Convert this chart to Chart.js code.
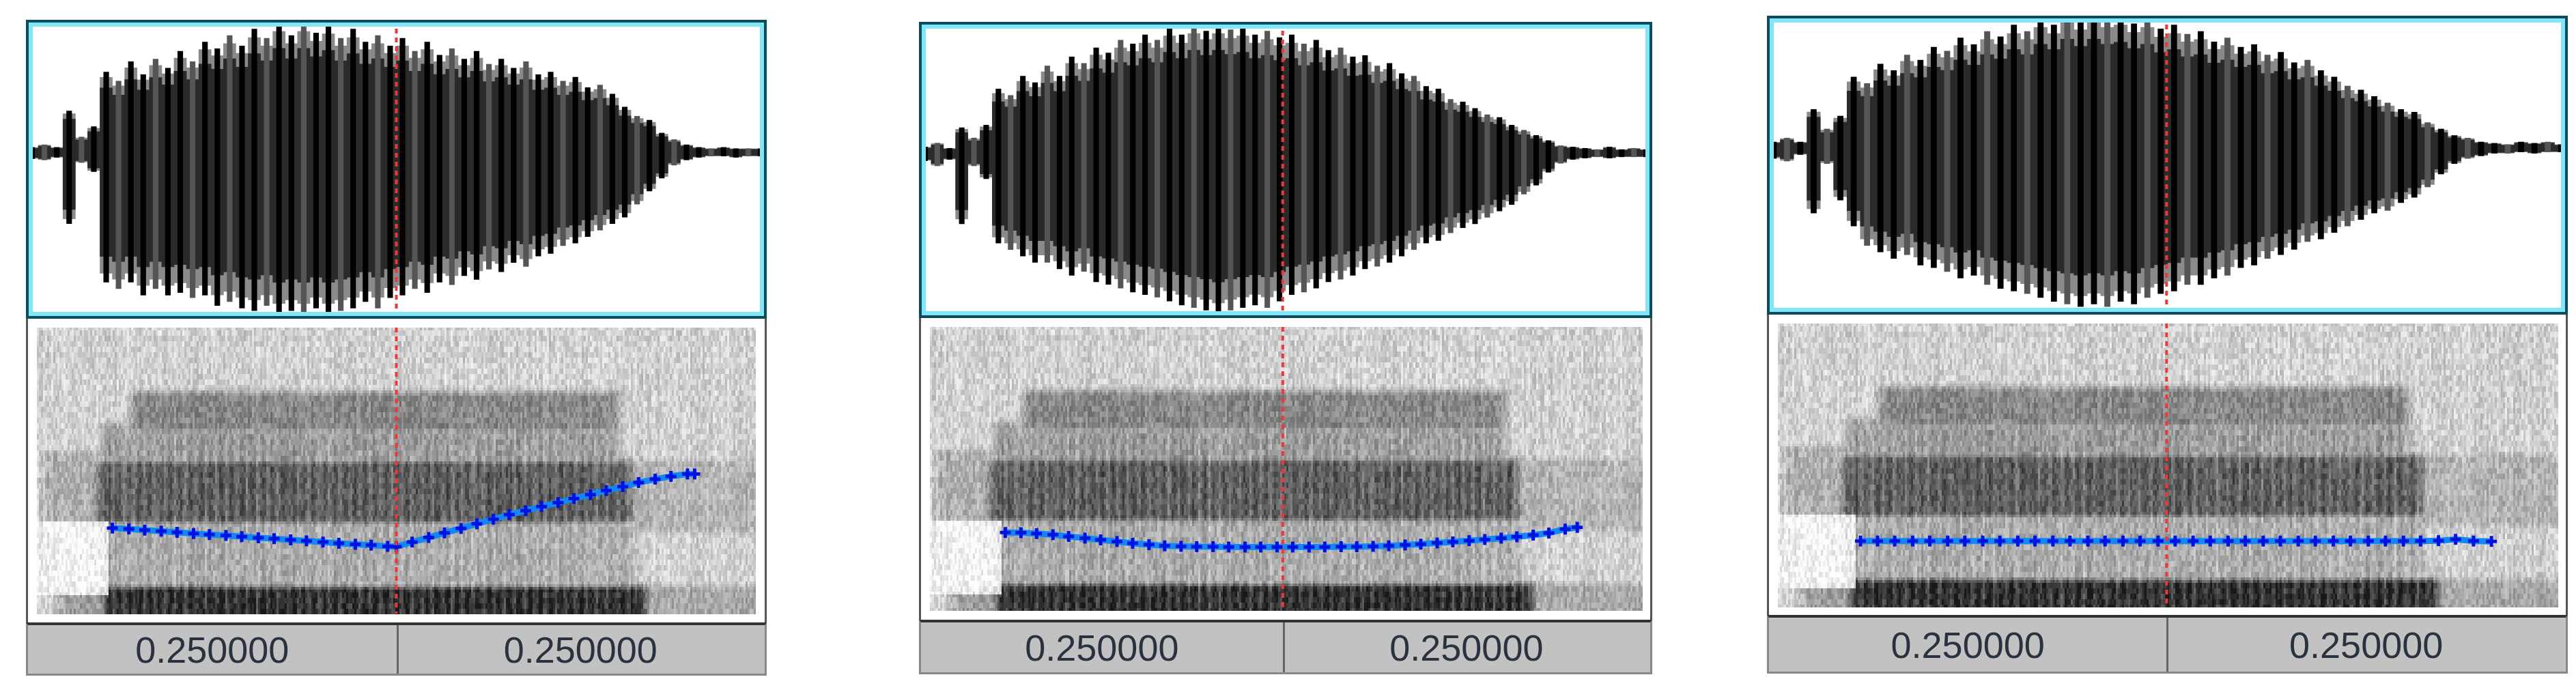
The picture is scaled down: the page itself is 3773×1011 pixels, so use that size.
<!DOCTYPE html>
<html><head><meta charset="utf-8">
<script src="https://cdn.jsdelivr.net/npm/chart.js@4"></script>
<style>
body{margin:0;background:#fff;width:3773px;height:1011px;overflow:hidden;position:relative;font-family:"Liberation Sans",Arial,sans-serif}
.panel{position:absolute}
.wave{position:absolute;left:0;}
.spec{position:absolute;left:0;border-left:3px solid #555;border-right:3px solid #555;box-sizing:border-box}
.bar{position:absolute;left:0;background:#c2c2c2;border:3px solid #888;border-top:4px solid #333;box-sizing:border-box}
.lab{position:absolute;top:0;height:100%;display:flex;align-items:center;justify-content:center;font-size:54px;color:#2a3240}
.div{position:absolute;top:0;height:100%;width:3px;background:#666}
</style></head><body>
<script>
// ---- data ----
const panelNames = ["p1","p2","p3"];
const timeLabels = ["0.250000","0.250000"];
const cursorTime = [0.50, 0.496, 0.499];

const waveHi1 = [0.04,0.06,0.04,0.32,0.12,0.2, 0.62,0.55,0.7,0.6,0.72,0.65,0.78,0.7,0.85,0.8,0.9,0.82,0.95,0.88,1.0,0.9,1.0,0.92,0.98,0.88,0.95,0.85,0.9,0.82,0.88,0.78,0.85,0.75,0.8,0.72,0.78,0.68,0.72,0.65,0.7,0.6,0.62,0.55,0.58,0.5,0.52,0.45, 0.35,0.28,0.25,0.15,0.1,0.06, 0.04,0.03,0.04,0.03,0.03,0.03];
const waveLo1 = [-0.05,-0.06,-0.04,-0.55,-0.08,-0.15, -1.0,-1.05,-1.0,-1.1,-1.05,-1.1,-1.08,-1.12,-1.1,-1.18,-1.15,-1.2,-1.22,-1.18,-1.25,-1.22,-1.25,-1.2,-1.25,-1.22,-1.2,-1.15,-1.2,-1.12,-1.1,-1.05,-1.08,-1.0,-1.02,-0.95,-0.98,-0.9,-0.92,-0.85,-0.88,-0.8,-0.78,-0.72,-0.7,-0.65,-0.6,-0.55, -0.5,-0.4,-0.3,-0.2,-0.1,-0.06, -0.04,-0.03,-0.03,-0.04,-0.03,-0.03];
const waveHi2 = [0.05,0.08,0.04,0.2,0.12,0.22, 0.5,0.45,0.6,0.55,0.68,0.6,0.75,0.7,0.82,0.78,0.88,0.85,0.92,0.88,0.98,0.92,1.0,0.95,1.0,0.96,0.98,0.92,0.95,0.9,0.92,0.85,0.88,0.8,0.82,0.75,0.76,0.68,0.7,0.62,0.6,0.52,0.5,0.42,0.4,0.35,0.3,0.28, 0.22,0.18,0.14,0.1,0.06,0.05, 0.04,0.03,0.05,0.03,0.04,0.03];
const waveLo2 = [-0.06,-0.1,-0.05,-0.55,-0.1,-0.2, -0.7,-0.75,-0.8,-0.85,-0.85,-0.9,-0.95,-0.92,-1.0,-1.02,-1.05,-1.08,-1.1,-1.12,-1.15,-1.18,-1.2,-1.22,-1.25,-1.22,-1.2,-1.18,-1.2,-1.15,-1.1,-1.08,-1.05,-1.0,-0.98,-0.95,-0.9,-0.88,-0.85,-0.8,-0.75,-0.7,-0.68,-0.62,-0.58,-0.55,-0.5,-0.45, -0.4,-0.32,-0.25,-0.15,-0.08,-0.05, -0.04,-0.03,-0.04,-0.03,-0.03,-0.03];
const waveHi3 = [0.05,0.08,0.05,0.3,0.15,0.25, 0.55,0.5,0.65,0.6,0.72,0.68,0.78,0.75,0.85,0.8,0.9,0.86,0.95,0.9,1.0,0.95,1.05,0.98,1.05,1.0,1.02,0.96,1.0,0.92,0.95,0.88,0.9,0.82,0.85,0.78,0.8,0.72,0.74,0.66,0.68,0.6,0.55,0.48,0.45,0.4,0.35,0.3, 0.28,0.2,0.15,0.1,0.08,0.05, 0.04,0.03,0.05,0.04,0.05,0.03];
const waveLo3 = [-0.08,-0.1,-0.05,-0.5,-0.12,-0.4, -0.6,-0.75,-0.8,-0.85,-0.82,-0.9,-0.92,-0.95,-1.0,-0.98,-1.05,-1.08,-1.1,-1.12,-1.15,-1.18,-1.2,-1.22,-1.2,-1.22,-1.18,-1.2,-1.15,-1.12,-1.1,-1.05,-1.05,-1.0,-0.98,-0.92,-0.9,-0.85,-0.82,-0.78,-0.72,-0.7,-0.65,-0.6,-0.55,-0.5,-0.48,-0.42, -0.38,-0.3,-0.2,-0.12,-0.08,-0.06, -0.04,-0.04,-0.03,-0.04,-0.03,-0.03];

const pitchT1 = [0.105,0.128,0.150,0.173,0.195,0.218,0.240,0.263,0.285,0.308,0.330,0.353,0.375,0.398,0.420,0.443,0.465,0.488,0.500,0.522,0.545,0.567,0.590,0.612,0.635,0.657,0.680,0.702,0.725,0.747,0.770,0.792,0.815,0.837,0.860,0.882,0.905,0.915];
const pitchF1 = [29.9,29.6,29.2,28.8,28.4,28.0,27.6,27.3,26.9,26.5,26.2,25.8,25.4,25.0,24.6,24.2,23.9,23.5,23.4,25.0,26.6,28.2,29.8,31.4,33.0,34.6,36.0,37.4,38.8,40.2,41.6,43.0,44.4,45.8,47.0,48.0,48.8,48.8];
const pitchT2 = [0.106,0.128,0.150,0.173,0.195,0.218,0.240,0.263,0.285,0.308,0.330,0.353,0.375,0.398,0.420,0.443,0.465,0.488,0.510,0.533,0.555,0.578,0.600,0.623,0.645,0.668,0.690,0.713,0.735,0.758,0.780,0.803,0.825,0.848,0.870,0.893,0.910];
const pitchF2 = [27.6,27.5,27.2,26.8,26.2,25.6,25.0,24.4,23.8,23.3,22.9,22.7,22.6,22.6,22.5,22.5,22.5,22.5,22.5,22.5,22.5,22.6,22.6,22.7,22.9,23.2,23.5,23.9,24.3,24.7,25.1,25.6,26.1,26.7,27.4,28.8,29.4];
const pitchT3 = [0.106,0.128,0.150,0.173,0.195,0.218,0.240,0.263,0.285,0.308,0.330,0.353,0.375,0.398,0.420,0.443,0.465,0.488,0.510,0.533,0.555,0.578,0.600,0.623,0.645,0.668,0.690,0.713,0.735,0.758,0.780,0.803,0.825,0.848,0.870,0.893,0.916];
const pitchF3 = [23.0,23.0,23.0,23.0,23.0,23.0,23.0,23.0,23.0,23.0,23.0,23.0,23.0,23.0,23.0,23.0,23.0,23.0,23.0,23.0,23.0,23.0,23.0,23.0,23.0,23.0,23.0,23.0,23.0,23.0,23.0,23.0,23.0,23.1,23.6,23.0,22.9];

// spectrogram energy bands: [t0, t1, yLow, yHigh, darkness]
const specBands = [
  [0.10,0.84,0,8,0.8],
  [0.10,0.82,8,33,0.32],
  [0.09,0.82,33,52,0.62],
  [0.10,0.80,52,65,0.38],
  [0.14,0.80,65,76,0.48],
  [0.02,0.10,33,55,0.32],
  [0.82,1.00,30,52,0.3],
  [0.82,1.00,0,8,0.35],
  [0.04,0.10,0,6,0.4]
];

const panels = [
  {left:38, width:1085, waveTop:29, waveH:438, specH:445, barH:78, hi:waveHi1, lo:waveLo1, pt:pitchT1, pf:pitchF1},
  {left:1346, width:1074, waveTop:32, waveH:434, specH:442, barH:80, hi:waveHi2, lo:waveLo2, pt:pitchT2, pf:pitchF2},
  {left:2588, width:1173, waveTop:23, waveH:438, specH:440, barH:86, hi:waveHi3, lo:waveLo3, pt:pitchT3, pf:pitchF3}
];

function hash(a,b){let h=(a*374761393+b*668265263)|0;h=(h^(h>>>13))*1274126177|0;return ((h^(h>>>16))>>>0)/4294967296;}
function soft(v,a,b,e){if(v<a-e||v>b+e)return 0;if(v<a)return (v-a+e)/e;if(v>b)return (b+e-v)/e;return 1;}

panels.forEach((p,pi)=>{
  const el=document.createElement('div');el.className='panel';
  el.style.left=p.left+'px';el.style.top=p.waveTop+'px';el.style.width=p.width+'px';
  el.innerHTML=`<div class="wave" style="top:0;width:${p.width}px;height:${p.waveH}px"><canvas id="w${pi}"></canvas></div>
  <div class="spec" style="top:${p.waveH}px;width:${p.width}px;height:${p.specH}px"><canvas id="s${pi}"></canvas></div>
  <div class="bar" style="top:${p.waveH+p.specH}px;width:${p.width}px;height:${p.barH}px">
   <div class="lab" style="left:0;width:${cursorTime[pi]*100}%">${timeLabels[0]}</div>
   <div class="div" style="left:${cursorTime[pi]*100}%"></div>
   <div class="lab" style="left:${cursorTime[pi]*100}%;width:${(1-cursorTime[pi])*100}%">${timeLabels[1]}</div></div>`;
  document.body.appendChild(el);

  const cursorPlugin={id:'cur',afterDatasetsDraw(c){const a=c.chartArea,ctx=c.ctx;const x=a.left+cursorTime[pi]*(a.right-a.left);
    ctx.save();ctx.strokeStyle='#e83a3a';ctx.lineWidth=4;ctx.setLineDash([7,6]);ctx.beginPath();ctx.moveTo(x,a.top);ctx.lineTo(x,a.bottom);ctx.stroke();ctx.restore();}};

  const waveFrame={id:'wf',beforeDatasetsDraw(c){const a=c.chartArea,ctx=c.ctx,y=c.scales.y.getPixelForValue(0);
      ctx.save();ctx.strokeStyle='#0b6a85';ctx.lineWidth=3;ctx.setLineDash([10,8]);ctx.beginPath();ctx.moveTo(a.left,y);ctx.lineTo(a.right,y);ctx.stroke();ctx.restore();},
    afterDraw(c){const ctx=c.ctx,w=c.width,h=c.height;ctx.save();ctx.strokeStyle='#7fe6f7';ctx.lineWidth=10;ctx.strokeRect(5,5,w-10,h-10);
      ctx.strokeStyle='#0d4a60';ctx.lineWidth=4;ctx.strokeRect(2,2,w-4,h-4);ctx.restore();}};

  const labels=p.hi.map((_,i)=>i);
  new Chart(document.getElementById('w'+pi),{type:'bar',
    data:{labels,datasets:[
      {data:p.hi.map((h,i)=>[p.lo[i],h]),backgroundColor:labels.map(i=>i%3===1?'#555':'#000'),barPercentage:0.45,categoryPercentage:1,grouped:false,order:1},
      {data:p.hi.map((h,i)=>[p.lo[i]*0.8,h*0.8]),backgroundColor:'#2a2a2a',barPercentage:1,categoryPercentage:1,grouped:false,order:2},
      {data:p.hi.map((h,i)=>[p.lo[i]*0.93,h*0.93]),backgroundColor:'#8a8a8a',barPercentage:1,categoryPercentage:1,grouped:false,order:3}
    ]},
    options:{responsive:true,maintainAspectRatio:false,animation:false,devicePixelRatio:1,
      layout:{padding:0},plugins:{legend:{display:false},tooltip:{enabled:false}},
      scales:{x:{display:false,offset:true},y:{display:false,min:-1.28,max:1.02}}},
    plugins:[waveFrame,cursorPlugin]});

  const specPlugin={id:'sp',beforeDatasetsDraw(c){const a=c.chartArea,ctx=c.ctx,xs=c.scales.x,ys=c.scales.y;
    const cw=3,ch=4;
    for(let px=a.left;px<a.right;px+=cw){const t=xs.getValueForPixel(px+cw/2);
      const col=hash(Math.floor(px/cw),7)-0.5;
      for(let py=a.top;py<a.bottom;py+=ch){const f=ys.getValueForPixel(py+ch/2);
        let d=0.18;
        specBands.forEach(b=>{const s=soft(t,b[0],b[1],0.02)*soft(f,b[2],b[3],3);d=Math.max(d,0.18+(b[4]-0.18)*s);});
        if(t<0.1&&f>6&&f<32)d*=0.2*(1+ (0.1-t)*0);
        const voiced=t>0.1&&t<0.83;
        if(voiced&&f<62){d*=0.85+0.3*Math.abs(Math.cos(t*Math.PI*70));}
        d+= (hash(px|0,Math.floor(py/8))-0.5)*0.22 + col*0.08;
        d=Math.min(0.95,Math.max(0,d));
        const g=Math.round(252-d*240);ctx.fillStyle=`rgb(${g},${g},${g})`;ctx.fillRect(px,py,cw,ch);} }
    }};
  new Chart(document.getElementById('s'+pi),{type:'line',
    data:{datasets:[{data:p.pt.map((t,i)=>({x:t,y:p.pf[i]})),borderColor:'#1287f5',borderWidth:9,
      pointRadius:0,tension:0,order:2},
      {data:p.pt.map((t,i)=>({x:t,y:p.pf[i]})),showLine:false,pointStyle:'cross',pointRadius:8,pointBorderWidth:5,pointBorderColor:'#0012e0',order:1}]},
    options:{responsive:true,maintainAspectRatio:false,animation:false,devicePixelRatio:1,
      layout:{padding:0},plugins:{legend:{display:false},tooltip:{enabled:false}},
      scales:{x:{type:'linear',display:false,min:0,max:1},y:{display:false,min:0,max:100}}},
    plugins:[specPlugin,cursorPlugin]});
});
</script></body></html>
